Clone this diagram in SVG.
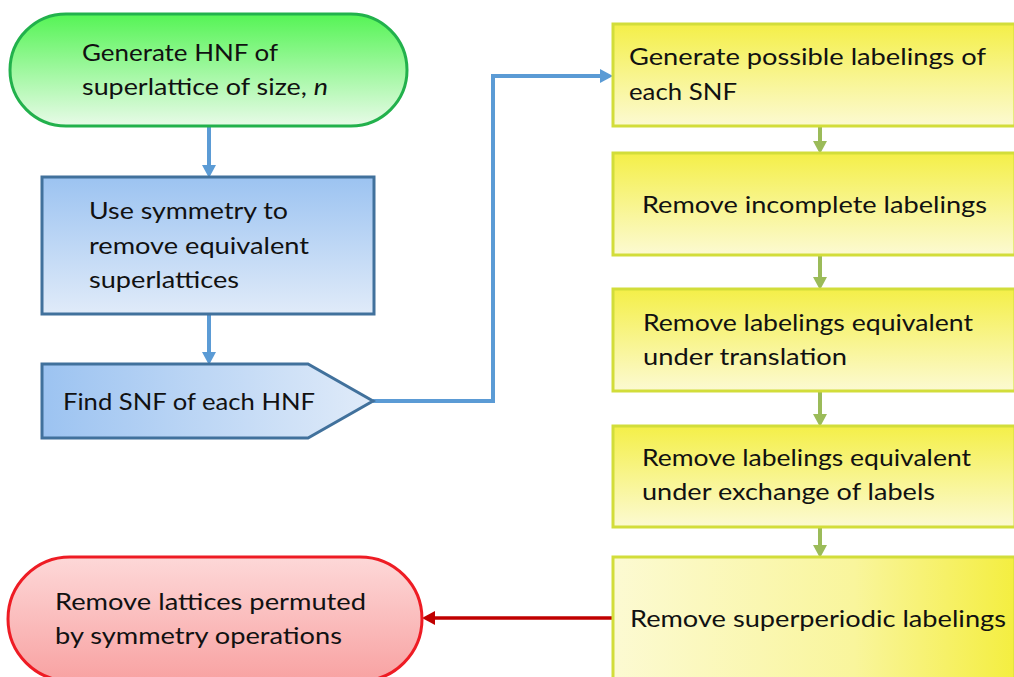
<svg xmlns="http://www.w3.org/2000/svg" width="1014" height="677" viewBox="0 0 1014 677">
<defs>
<linearGradient id="gGreen" x1="0" y1="0" x2="0" y2="1"><stop offset="0" stop-color="#55f455"/><stop offset="1" stop-color="#e8fbe8"/></linearGradient>
<linearGradient id="gBlueV" x1="0" y1="0" x2="0" y2="1"><stop offset="0" stop-color="#9cc3f1"/><stop offset="1" stop-color="#e0ebf9"/></linearGradient>
<linearGradient id="gBlueH" x1="0" y1="0" x2="1" y2="0"><stop offset="0" stop-color="#9cc3f1"/><stop offset="1" stop-color="#e0ebf9"/></linearGradient>
<linearGradient id="gYellowV" x1="0" y1="0" x2="0" y2="1"><stop offset="0" stop-color="#f4ef48"/><stop offset="1" stop-color="#fcfad2"/></linearGradient>
<linearGradient id="gYellowH" x1="0" y1="0" x2="1" y2="0"><stop offset="0" stop-color="#fcfad2"/><stop offset="0.6" stop-color="#f9f59c"/><stop offset="1" stop-color="#f4ee40"/></linearGradient>
<linearGradient id="gRed" x1="0" y1="0" x2="0" y2="1"><stop offset="0" stop-color="#fdd8d8"/><stop offset="1" stop-color="#f8a2a2"/></linearGradient>
<marker id="aBlue" markerUnits="userSpaceOnUse" markerWidth="14" markerHeight="14" refX="4" refY="7" orient="auto"><path d="M0,0 L13,7 L0,14 z" fill="#5b9bd5"/></marker>
<marker id="aGreen" markerUnits="userSpaceOnUse" markerWidth="14" markerHeight="14" refX="4" refY="7" orient="auto"><path d="M0,0 L13,7 L0,14 z" fill="#9bbb59"/></marker>
<marker id="aRed" markerUnits="userSpaceOnUse" markerWidth="14" markerHeight="14" refX="4" refY="7" orient="auto"><path d="M0,0 L13,7 L0,14 z" fill="#c00000"/></marker>
</defs>
<style>
text{font-family:"Lato","Open Sans","Liberation Sans",sans-serif;font-size:24px;fill:#111;}
.yb{stroke:#d2dd3a;stroke-width:3;}
.bl{stroke:#5b9bd5;stroke-width:4;fill:none;}
.gr{stroke:#9bbb59;stroke-width:4;fill:none;}
.rd{stroke:#c00000;stroke-width:3.5;fill:none;}
</style>
<g id="connectors">
<path class="bl" d="M209,126 V169" marker-end="url(#aBlue)"/>
<path class="bl" d="M209,314 V356" marker-end="url(#aBlue)"/>
<path class="bl" d="M373,401 H493 V76 H604" marker-end="url(#aBlue)"/>
<path class="gr" d="M820,126 V145" marker-end="url(#aGreen)"/>
<path class="gr" d="M820,255 V281" marker-end="url(#aGreen)"/>
<path class="gr" d="M820,391 V418" marker-end="url(#aGreen)"/>
<path class="gr" d="M820,527 V549" marker-end="url(#aGreen)"/>
<path class="rd" d="M613,618 H431" marker-end="url(#aRed)"/>
</g>
<g id="n-start">
<rect x="10" y="14" width="397" height="112" rx="56" ry="56" fill="url(#gGreen)" stroke="#22b14c" stroke-width="3"/>
<text x="82" y="61" textLength="196" lengthAdjust="spacingAndGlyphs">Generate HNF of</text>
<text x="82" y="95" textLength="246" lengthAdjust="spacingAndGlyphs">superlattice of size, <tspan font-style="italic">n</tspan></text>
</g>
<g id="n-symmetry">
<rect x="42" y="177" width="332" height="137" fill="url(#gBlueV)" stroke="#41719c" stroke-width="3"/>
<text x="89" y="219" textLength="199" lengthAdjust="spacingAndGlyphs">Use symmetry to</text>
<text x="89" y="254" textLength="220" lengthAdjust="spacingAndGlyphs">remove equivalent</text>
<text x="89" y="288" textLength="150" lengthAdjust="spacingAndGlyphs">superlattices</text>
</g>
<g id="n-snf">
<path d="M42,364 H308 L373,401 L308,438 H42 Z" fill="url(#gBlueH)" stroke="#41719c" stroke-width="3"/>
<text x="63" y="410" textLength="252" lengthAdjust="spacingAndGlyphs">Find SNF of each HNF</text>
</g>
<g id="n-gen-labelings">
<rect class="yb" x="613" y="24" width="402" height="102" fill="url(#gYellowV)"/>
<text x="629" y="65" textLength="357" lengthAdjust="spacingAndGlyphs">Generate possible labelings of</text>
<text x="629" y="100" textLength="108" lengthAdjust="spacingAndGlyphs">each SNF</text>
</g>
<g id="n-incomplete">
<rect class="yb" x="613" y="153" width="402" height="102" fill="url(#gYellowV)"/>
<text x="642" y="213" textLength="345" lengthAdjust="spacingAndGlyphs">Remove incomplete labelings</text>
</g>
<g id="n-translation">
<rect class="yb" x="613" y="289" width="402" height="102" fill="url(#gYellowV)"/>
<text x="643" y="331" textLength="330" lengthAdjust="spacingAndGlyphs">Remove labelings equivalent</text>
<text x="643" y="365" textLength="204" lengthAdjust="spacingAndGlyphs">under translation</text>
</g>
<g id="n-exchange">
<rect class="yb" x="613" y="426" width="402" height="101" fill="url(#gYellowV)"/>
<text x="642" y="466" textLength="329" lengthAdjust="spacingAndGlyphs">Remove labelings equivalent</text>
<text x="642" y="500" textLength="293" lengthAdjust="spacingAndGlyphs">under exchange of labels</text>
</g>
<g id="n-superperiodic">
<rect class="yb" x="613" y="557" width="402" height="130" fill="url(#gYellowH)"/>
<text x="630" y="627" textLength="376" lengthAdjust="spacingAndGlyphs">Remove superperiodic labelings</text>
</g>
<g id="n-end">
<rect x="8" y="557" width="414" height="124" rx="62" ry="62" fill="url(#gRed)" stroke="#ee1c24" stroke-width="3"/>
<text x="55" y="610" textLength="311" lengthAdjust="spacingAndGlyphs">Remove lattices permuted</text>
<text x="55" y="644" textLength="287" lengthAdjust="spacingAndGlyphs">by symmetry operations</text>
</g>
</svg>
